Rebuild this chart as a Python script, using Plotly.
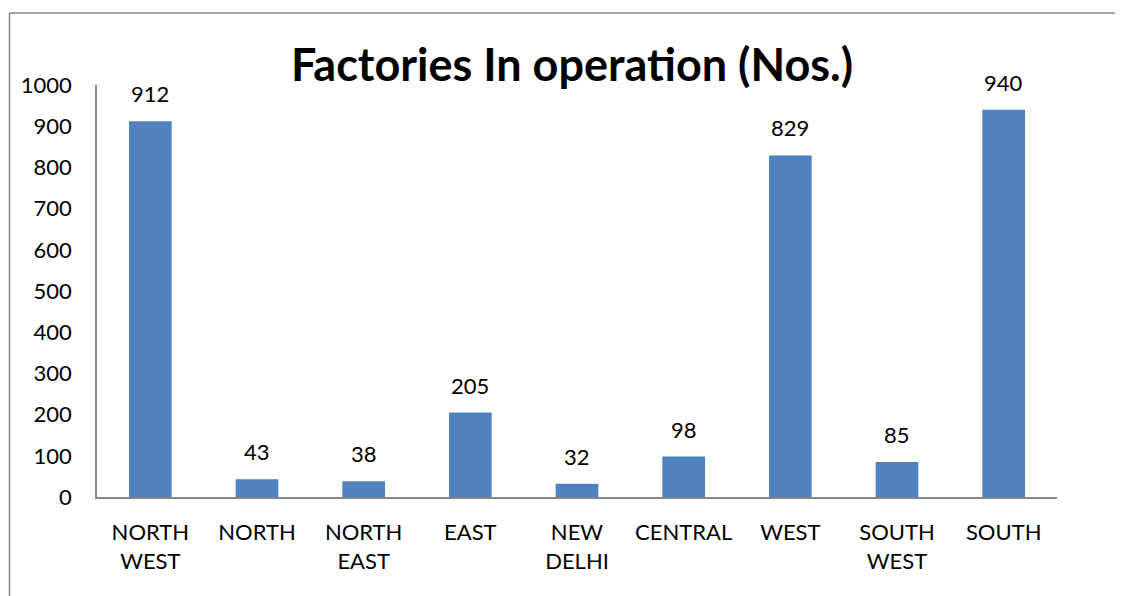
import plotly.graph_objects as go

categories = ["NORTH<br>WEST", "NORTH", "NORTH<br>EAST", "EAST", "NEW<br>DELHI",
              "CENTRAL", "WEST", "SOUTH<br>WEST", "SOUTH"]
values = [912, 43, 38, 205, 32, 98, 829, 85, 940]
y_ticks = [0, 100, 200, 300, 400, 500, 600, 700, 800, 900, 1000]
title_text = "Factories In operation (Nos.)"

# page body has an 8px margin, so figure coords = screen coords - 8
OFF = 8
W, H = 1123 - OFF, 596 - OFF
L, R, T, B = 97 - OFF, W - (1057 - OFF), 85 - OFF, H - (497 - OFF)
pw, ph = W - L - R, H - T - B

fig = go.Figure(go.Bar(
    x=categories, y=values,
    marker=dict(color="#4F81BD", line=dict(width=0)),
    cliponaxis=False, width=0.4,
))

for c, v in zip(categories, values):
    fig.add_annotation(x=c, y=v, text=str(v), showarrow=False, yanchor="bottom",
                       yshift=12, font=dict(family="Lato", size=22, color="#000000"))

def px_x(x):
    return (x - OFF - L) / pw

def px_y(y):
    return (H - B - (y - OFF)) / ph

fig.update_layout(
    width=W, height=H,
    margin=dict(l=L, r=R, t=T, b=B),
    paper_bgcolor="white", plot_bgcolor="white",
    font=dict(family="Lato", size=22, color="#000000"),
    title=dict(text="<b>" + title_text + "</b>", x=(572 - OFF) / W,
               xanchor="center", y=1 - (65 - OFF) / H, yanchor="middle",
               font=dict(family="Lato", size=45, color="#000000")),
    showlegend=False,
    shapes=[
        dict(type="line", xref="paper", yref="paper", x0=px_x(9.5), x1=px_x(9.5),
             y0=px_y(13), y1=px_y(640), line=dict(color="#878787", width=1.5)),
        dict(type="line", xref="paper", yref="paper", x0=px_x(9.5), x1=px_x(1160),
             y0=px_y(13), y1=px_y(13), line=dict(color="#878787", width=1.5)),
    ],
)
fig.update_yaxes(range=[0, 1000], tickvals=y_ticks, showgrid=False, zeroline=False,
                 showline=True, linecolor="#868686", linewidth=1.5,
                 ticks="outside", ticklen=19, tickcolor="rgba(0,0,0,0)",
                 tickfont=dict(family="Lato", size=22))
fig.update_xaxes(showgrid=False, showline=True, linecolor="#868686", linewidth=1.5,
                 ticks="outside", ticklen=15, tickcolor="rgba(0,0,0,0)",
                 tickfont=dict(family="Lato", size=22))

fig.write_html("out.html")
